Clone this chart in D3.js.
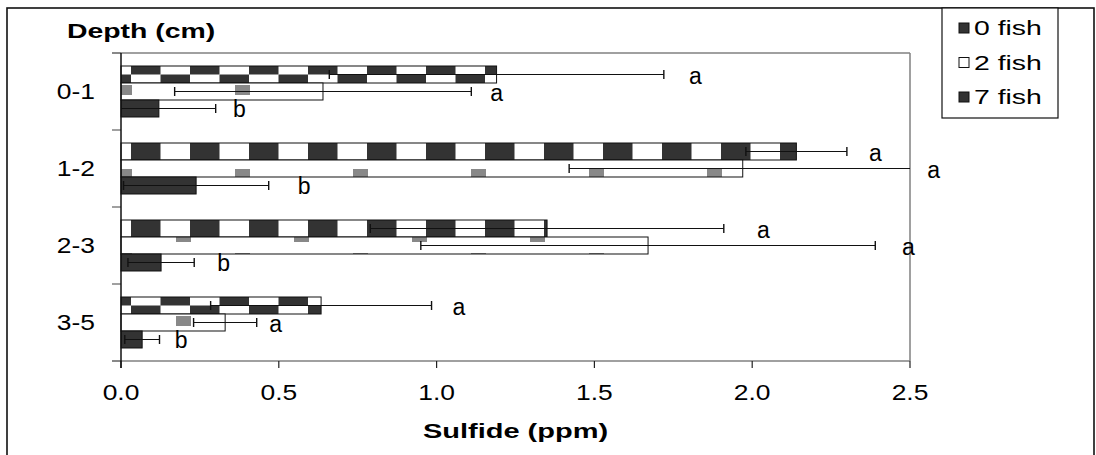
<!DOCTYPE html>
<html>
<head>
<meta charset="utf-8">
<script src="https://cdn.jsdelivr.net/npm/d3@7/dist/d3.min.js"></script>
<style>
  body { margin: 0; background: #fff; }
  text { font-family: "Liberation Sans", Arial, sans-serif; fill: #000; }
</style>
</head>
<body>
<svg id="chart" width="1096" height="455"></svg>
<script>
// data
var categories = ["0-1", "1-2", "2-3", "3-5"];
var seriesNames = ["0 fish", "2 fish", "7 fish"];
var fish0 = [1.19, 2.14, 1.35, 0.634];
var fish2 = [0.64, 1.97, 1.67, 0.33];
var fish7 = [0.12, 0.238, 0.127, 0.067];
var err0 = [0.53, 0.16, 0.56, 0.35];
var err2 = [0.47, 0.55, 0.72, 0.10];
var err7 = [0.18, 0.23, 0.105, 0.055];
var letters0 = ["a", "a", "a", "a"];
var letters2 = ["a", "a", "a", "a"];
var letters7 = ["b", "b", "b", "b"];
// where the letters sit, in ppm
var letterX0 = [1.80, 2.37, 2.015, 1.05];
var letterX2 = [1.17, 2.555, 2.475, 0.47];
var letterX7 = [0.355, 0.56, 0.305, 0.17];
var xTicks = [0, 0.5, 1.0, 1.5, 2.0, 2.5];

var svg = d3.select("#chart");

svg.append("rect")
  .attr("x", 0).attr("y", 0)
  .attr("width", 1096).attr("height", 455)
  .style("fill", "#fff");

// outer frame
svg.append("rect")
  .attr("x", 7).attr("y", 8)
  .attr("width", 1087).attr("height", 500)
  .style("fill", "none")
  .style("stroke", "#111")
  .style("stroke-width", 1.6);

var x = d3.scaleLinear().domain([0, 2.5]).range([121, 910]);
var y = d3.scaleBand().domain(categories).range([53, 361]);
var yi = d3.scaleBand().domain(seriesNames)
  .range([0, y.bandwidth()])
  .paddingOuter(0.765);

var series = [
  { name: "0 fish", values: fish0, errs: err0, letters: letters0, lx: letterX0, fill: "url(#checker)" },
  { name: "2 fish", values: fish2, errs: err2, letters: letters2, lx: letterX2, fill: "url(#dots)" },
  { name: "7 fish", values: fish7, errs: err7, letters: letters7, lx: letterX7, fill: "#333" }
];

// patterns
var defs = svg.append("defs");
var b1 = y(categories[0]) + yi("0 fish") + yi.bandwidth() / 2;
var b4 = y(categories[3]) + yi("0 fish") + yi.bandwidth() / 2;
var ch = (b4 - b1) / 5;
var checker = defs.append("pattern")
  .attr("id", "checker")
  .attr("patternUnits", "userSpaceOnUse")
  .attr("x", x(0) + 10).attr("y", b1 - ch)
  .attr("width", 59).attr("height", ch * 2);
checker.append("rect").attr("width", 59).attr("height", ch * 2).style("fill", "#fff");
checker.append("rect").attr("x", 0).attr("y", 0).attr("width", 29.5).attr("height", ch).style("fill", "#333");
checker.append("rect").attr("x", 29.5).attr("y", ch).attr("width", 29.5).attr("height", ch).style("fill", "#333");

var dots = defs.append("pattern")
  .attr("id", "dots")
  .attr("patternUnits", "userSpaceOnUse")
  .attr("x", x(0) - 4).attr("y", 85)
  .attr("width", 118).attr("height", 84);
dots.append("rect").attr("width", 118).attr("height", 84).style("fill", "#fff");
dots.append("rect").attr("x", 0).attr("y", 0).attr("width", 15).attr("height", 10).style("fill", "#888");
dots.append("rect").attr("x", 59).attr("y", 63).attr("width", 15).attr("height", 10).style("fill", "#888");

// plot frame: gray top and right, gray x axis, black y axis
svg.append("line")
  .attr("x1", 112).attr("x2", 910).attr("y1", 53).attr("y2", 53)
  .style("stroke", "#808080").style("stroke-width", 1.5);
svg.append("line")
  .attr("x1", 910).attr("x2", 910).attr("y1", 53).attr("y2", 361)
  .style("stroke", "#808080").style("stroke-width", 1.5);

var catEdges = categories.map(function(c){ return y(c); }).concat([y.range()[1]]);
svg.append("g").selectAll("line")
  .data(catEdges)
  .enter().append("line")
  .attr("x1", 112).attr("x2", 121)
  .attr("y1", function(d){ return d; }).attr("y2", function(d){ return d; })
  .style("stroke", "#808080").style("stroke-width", 1.5);

svg.append("line")
  .attr("x1", 112).attr("x2", 910).attr("y1", 361).attr("y2", 361)
  .style("stroke", "#808080").style("stroke-width", 1.5);

svg.append("g").selectAll("line")
  .data(xTicks)
  .enter().append("line")
  .attr("x1", function(d){ return x(d); }).attr("x2", function(d){ return x(d); })
  .attr("y1", 361).attr("y2", 368)
  .style("stroke", "#222").style("stroke-width", 1.2);

// bars
series.forEach(function(s){
  var g = svg.append("g");
  g.selectAll("rect")
    .data(s.values)
    .enter().append("rect")
    .attr("x", x(0))
    .attr("y", function(d, i){ return y(categories[i]) + yi(s.name); })
    .attr("width", function(d){ return x(d) - x(0); })
    .attr("height", yi.bandwidth())
    .style("fill", s.fill)
    .style("stroke", "#111")
    .style("stroke-width", 1);
});

// error bars, cut at the plot edges like the original
series.forEach(function(s){
  var g = svg.append("g");
  s.values.forEach(function(v, i){
    var cy = y(categories[i]) + yi(s.name) + yi.bandwidth() / 2;
    var lo = v - s.errs[i], hi = v + s.errs[i];
    var loC = Math.max(lo, 0), hiC = Math.min(hi, 2.5);
    g.append("line")
      .attr("x1", x(loC)).attr("x2", x(hiC))
      .attr("y1", cy).attr("y2", cy)
      .style("stroke", "#111").style("stroke-width", 1.2);
    [lo, hi].forEach(function(e){
      if(e < 0 || e > 2.5) return;
      g.append("line")
        .attr("x1", x(e)).attr("x2", x(e))
        .attr("y1", cy - 4.5).attr("y2", cy + 4.5)
        .style("stroke", "#111").style("stroke-width", 1.4);
    });
  });
  g.selectAll("text")
    .data(s.letters)
    .enter().append("text")
    .attr("x", function(d, i){ return x(s.lx[i]); })
    .attr("y", function(d, i){ return y(categories[i]) + yi(s.name) + yi.bandwidth() / 2 + 9; })
    .attr("font-size", "23px")
    .text(function(d){ return d; });
});

// y axis line
svg.append("line")
  .attr("x1", 121).attr("x2", 121).attr("y1", 53).attr("y2", 368)
  .style("stroke", "#111").style("stroke-width", 1.5);

// tick labels
svg.append("g").selectAll("text")
  .data(xTicks)
  .enter().append("text")
  .attr("transform", function(d){ return "translate(" + x(d) + ",400) scale(1.2,1)"; })
  .attr("text-anchor", "middle")
  .attr("font-size", "22px")
  .text(function(d){ return d3.format(".1f")(d); });

svg.append("g").selectAll("text")
  .data(categories)
  .enter().append("text")
  .attr("transform", function(d){ return "translate(95," + (y(d) + y.bandwidth() / 2 + 7.5) + ") scale(1.2,1)"; })
  .attr("text-anchor", "end")
  .attr("font-size", "22px")
  .text(function(d){ return d; });

// axis titles
svg.append("text")
  .attr("transform", "translate(67,38) scale(1.42,1)")
  .attr("font-size", "20px")
  .attr("font-weight", "700")
  .text("Depth (cm)");

svg.append("text")
  .attr("transform", "translate(" + (x(0) + x(2.5)) / 2 + ",438) scale(1.38,1)")
  .attr("text-anchor", "middle")
  .attr("font-size", "21px")
  .attr("font-weight", "700")
  .text("Sulfide (ppm)");

// legend
var legend = svg.append("g");
legend.append("rect")
  .attr("x", 942).attr("y", 8)
  .attr("width", 116).attr("height", 110)
  .style("fill", "#fff")
  .style("stroke", "#111").style("stroke-width", 1.2);
var legendFill = ["#333", "#fff", "#333"];
var items = legend.selectAll("g.item")
  .data(seriesNames)
  .enter().append("g")
  .attr("class", "item")
  .attr("transform", function(d, i){ return "translate(959," + (28 + i * 34.5) + ")"; });
items.append("rect")
  .attr("x", 0).attr("y", -5)
  .attr("width", 10).attr("height", 10)
  .style("fill", function(d, i){ return legendFill[i]; })
  .style("stroke", "#111").style("stroke-width", 1);
items.append("text")
  .attr("transform", "translate(15,7) scale(1.42,1)")
  .attr("font-size", "20px")
  .text(function(d){ return d; });
</script>
</body>
</html>
